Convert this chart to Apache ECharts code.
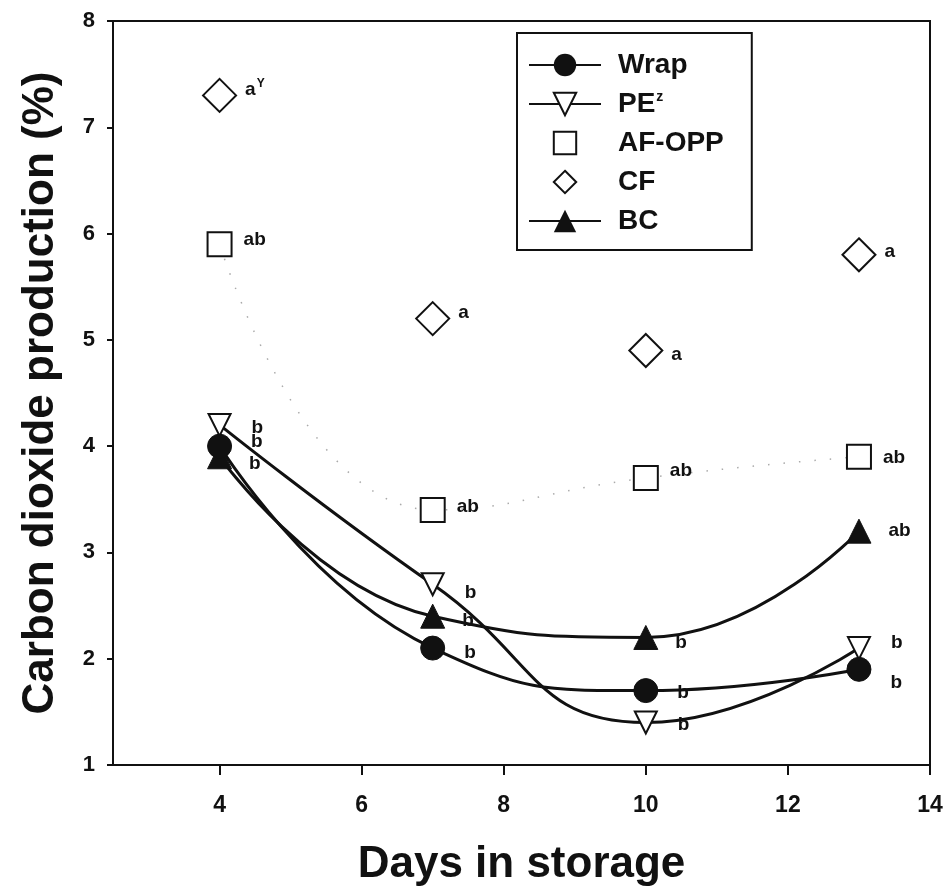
<!DOCTYPE html>
<html>
<head>
<meta charset="utf-8">
<script src="https://cdn.jsdelivr.net/npm/echarts@6/dist/echarts.min.js"></script>
<style>html,body{margin:0;padding:0;background:#fff;}#chart{width:946px;height:886px;}</style>
</head>
<body>
<div id="chart"></div>
<script>
// ---- data ----
const days = [4, 7, 10, 13];
const wrap = [4.0, 2.1, 1.7, 1.9];
const pe = [4.2, 2.7, 1.4, 2.1];
const afopp = [5.9, 3.4, 3.7, 3.9];
const cf = [7.3, 5.2, 4.9, 5.8];
const bc = [3.9, 2.4, 2.2, 3.2];
const wrapLetters = ['b', 'b', 'b', 'b'];
const peLetters = ['b', 'b', 'b', 'b'];
const afLetters = ['ab', 'ab', 'ab', 'ab'];
const cfLetters = ['a^Y', 'a', 'a', 'a'];
const bcLetters = ['b', 'b', 'b', 'ab'];
const xTicks = [4, 6, 8, 10, 12, 14];
const seriesNames = ['Wrap', 'PE', 'AF-OPP', 'CF', 'BC'];

// ---- label placement (style only) ----
const wrapDy = [-4, 5, 2, 13];
const peDy = [3, 8, 2, -5];
const bcDy = [7, 5, 5, 0];
const afDy = [-4, -3, -7, 1];
const cfDy = [-6, -6, 4, -3];

const INK = '#111';
const FONT = 'Liberation Sans, Arial, sans-serif';

function labelText(t) {
  if (t.indexOf('^') >= 0) {
    const p = t.split('^');
    return '{m|' + p[0] + '}{s|' + p[1] + '}';
  }
  return '{m|' + t + '}';
}
const richLab = {
  m: {fontSize: 19, fontWeight: 'bold', color: INK, fontFamily: FONT},
  s: {fontSize: 12, fontWeight: 'bold', color: INK, fontFamily: FONT, padding: [0, 0, 11, 1]}
};
function pts(vals, letters, dy, dist) {
  return vals.map((v, i) => ({
    value: [days[i], v],
    label: {
      show: true, position: 'right', distance: dist, offset: [0, dy[i]],
      formatter: labelText(letters[i]), rich: richLab
    }
  }));
}

const option = {
  backgroundColor: '#fff',
  animation: false,
  grid: {left: 113, right: 16, top: 21, bottom: 121, containLabel: false, outerBoundsMode: 'none',
         show: true, borderColor: INK, borderWidth: 2, backgroundColor: 'transparent'},
  legend: {
    data: seriesNames,
    orient: 'vertical',
    left: 517, top: 33,
    padding: [18, 28, 15, 11],
    itemWidth: 72, itemHeight: 28, itemGap: 11,
    borderColor: INK, borderWidth: 2,
    backgroundColor: '#fff',
    formatter: function (n) {
      if (n === 'PE') return '{n|PE}{s|z}';
      return '{n|' + n + '}';
    },
    textStyle: {
      color: INK, fontSize: 28, fontWeight: 'bold', fontFamily: FONT,
      rich: {
        n: {fontSize: 28, lineHeight: 28, fontWeight: 'bold', color: INK, fontFamily: FONT, padding: [0, 0, 0, 12]},
        s: {fontSize: 14, fontWeight: 'bold', color: INK, fontFamily: FONT, padding: [0, 0, 13, 1]}
      }
    }
  },
  xAxis: {
    type: 'value', min: 2.5, max: 14,
    name: 'Days in storage', nameLocation: 'middle', nameGap: 78,
    nameTextStyle: {fontSize: 44, fontWeight: 'bold', color: INK, fontFamily: FONT},
    axisLine: {show: true, lineStyle: {color: INK, width: 2}},
    axisTick: {show: true, inside: false, length: 10, lineStyle: {color: INK, width: 2}, customValues: xTicks},
    axisLabel: {color: INK, fontSize: 23, fontWeight: 'bold', fontFamily: FONT, margin: 29, customValues: xTicks},
    splitLine: {show: false}
  },
  yAxis: {
    type: 'value', min: 1, max: 8, interval: 1,
    name: 'Carbon dioxide production (%)', nameLocation: 'middle', nameGap: 50,
    nameTextStyle: {fontSize: 44, fontWeight: 'bold', color: INK, fontFamily: FONT},
    axisLine: {show: true, lineStyle: {color: INK, width: 2}},
    axisTick: {show: true, inside: false, length: 6, lineStyle: {color: INK, width: 2}},
    axisLabel: {color: INK, fontSize: 22, fontWeight: 'bold', fontFamily: FONT, margin: 18},
    splitLine: {show: false}
  },
  series: [
    {
      name: 'AF-OPP trend', type: 'line', smooth: true, silent: true,
      data: afopp.map((v, i) => [days[i], v]),
      showSymbol: false, symbol: 'none',
      lineStyle: {color: '#aaa', width: 1.5, type: [1.5, 14]}, z: 1
    },
    {
      name: 'Wrap', type: 'line', smooth: true,
      data: pts(wrap, wrapLetters, wrapDy, 19),
      symbol: 'circle', symbolSize: 24,
      itemStyle: {color: INK, borderColor: INK},
      lineStyle: {color: INK, width: 3}, z: 3
    },
    {
      name: 'PE', type: 'line', smooth: true,
      data: pts(pe, peLetters, peDy, 20),
      symbol: 'triangle', symbolRotate: 180, symbolSize: 22,
      itemStyle: {color: '#fff', borderColor: INK, borderWidth: 2},
      lineStyle: {color: INK, width: 3}, z: 4
    },
    {
      name: 'AF-OPP', type: 'line',
      data: pts(afopp, afLetters, afDy, 11),
      symbol: 'rect', symbolSize: 24,
      itemStyle: {color: '#fff', borderColor: INK, borderWidth: 2},
      lineStyle: {width: 0, opacity: 0}, z: 3
    },
    {
      name: 'CF', type: 'line',
      data: pts(cf, cfLetters, cfDy, 8),
      symbol: 'diamond', symbolSize: 33,
      itemStyle: {color: '#fff', borderColor: INK, borderWidth: 2},
      lineStyle: {width: 0, opacity: 0}, z: 3
    },
    {
      name: 'BC', type: 'line', smooth: true,
      data: pts(bc, bcLetters, bcDy, 17),
      symbol: 'triangle', symbolSize: 24,
      itemStyle: {color: INK, borderColor: INK},
      lineStyle: {color: INK, width: 3}, z: 2
    }
  ]
};

const chart = echarts.init(document.getElementById('chart'), null, {renderer: 'canvas'});
chart.setOption(option);
</script>
</body>
</html>
